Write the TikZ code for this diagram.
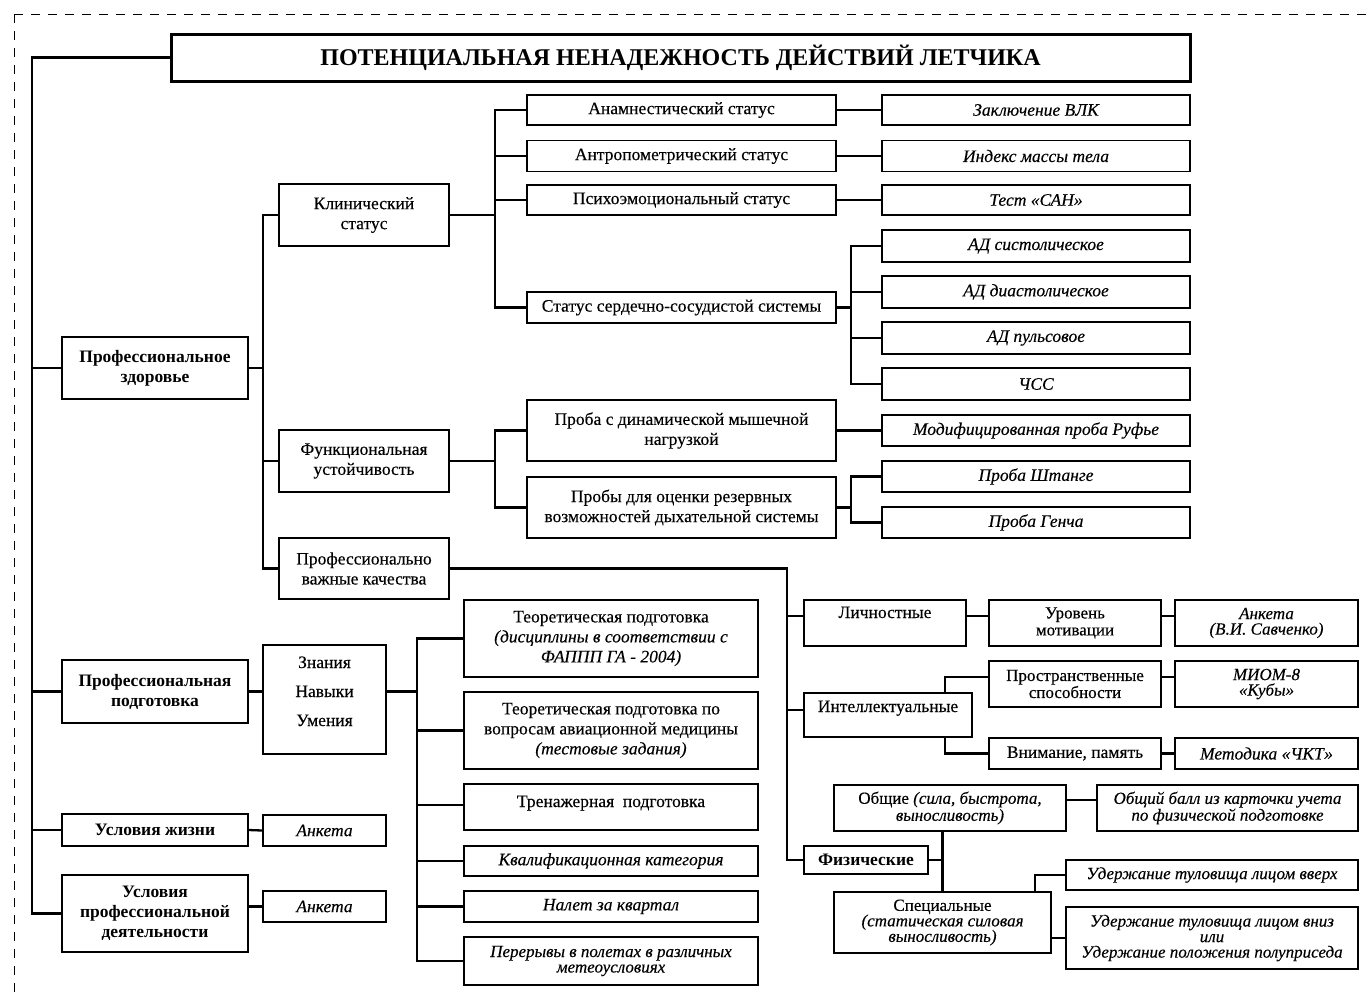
\documentclass[tikz,border=0pt]{standalone}
\usepackage{fontspec}
\setmainfont{Liberation Serif}[UprightFeatures={FakeBold=0.3}, ItalicFeatures={FakeBold=0.3}]
\usetikzlibrary{calc}

\tikzset{
	box/.style={draw, line width=1.6pt, align=center, inner sep=1pt, font=\fontsize{17.5}{20}\selectfont},
	bfbox/.style={box, font=\bfseries\fontsize{17.5}{20}\selectfont},
	itbox/.style={box, font=\itshape\fontsize{17.5}{20}\selectfont},
	smbox/.style={box, font=\fontsize{17}{17}\selectfont},
	smitbox/.style={box, font=\itshape\fontsize{17}{15.5}\selectfont},
	wh/.style 2 args={minimum width=#1pt, minimum height=#2pt},
	toptext/.style 2 args={inner ysep=0pt, text height=#1pt, text depth=#2pt},
	conn/.style={line width=2.3pt}
}

\begin{document}
\begin{tikzpicture}[x=1pt, y=-1pt]

	\useasboundingbox (0,0) rectangle (1370,997);

	\draw[line width=1pt, dash pattern=on 9pt off 8pt] (14,14) -- (1370,14);
	\draw[line width=1pt, dash pattern=on 9pt off 8pt] (14,14) -- (14,997);

	% bus lines
	\coordinate (b1) at (32,0);
	\coordinate (b2) at (263,0);
	\coordinate (b3) at (495,0);
	\coordinate (b4) at (851,0);
	\coordinate (b5) at (787,0);
	\coordinate (b6) at (417,0);

	\node[bfbox, line width=3pt, wh={1019}{47}, font=\bfseries\fontsize{24}{28}\selectfont] (title) at (680.5,57.5) {ПОТЕНЦИАЛЬНАЯ НЕНАДЕЖНОСТЬ ДЕЙСТВИЙ ЛЕТЧИКА};

	\node[bfbox, wh={186}{62}] (zdor) at (155,368) {Профессиональное\\здоровье};
	\node[bfbox, wh={186}{63}] (podg) at (155,691.5) {Профессиональная\\подготовка};
	\node[bfbox, wh={186}{32}] (zhizn) at (155,830) {Условия жизни};
	\node[bfbox, wh={186}{77}] (deyat) at (155,913.5) {Условия\\профессиональной\\деятельности};

	\node[box, wh={170}{62}] (klin) at (364,215) {Клинический\\статус};
	\node[box, wh={170}{62}] (funk) at (364,461) {Функциональная\\устойчивость};
	\node[box, wh={170}{61}] (pvk) at (364,568.5) {Профессионально\\важные качества};

	\node[box, wh={309}{30}] (anam) at (681.5,110) {Анамнестический статус};
	\node[box, wh={309}{31}] (antr) at (681.5,156) {Антропометрический статус};
	\node[box, wh={309}{30}] (psih) at (681.5,200) {Психоэмоциональный статус};
	\node[box, wh={309}{31}] (ssst) at (681.5,307.5) {Статус сердечно-сосудистой системы};
	\node[box, wh={309}{61}] (din) at (681.5,430.5) {Проба с динамической мышечной\\нагрузкой};
	\node[box, wh={309}{61}] (rez) at (681.5,507.5) {Пробы для оценки резервных\\возможностей дыхательной системы};

	\node[itbox, wh={308}{30}] (vlk) at (1036,110) {Заключение ВЛК};
	\node[itbox, wh={308}{31}] (imt) at (1036,156) {Индекс массы тела};
	\node[itbox, wh={308}{30}] (san) at (1036,200) {Тест «САН»};
	\node[itbox, wh={308}{32}] (sist) at (1036,246) {АД систолическое};
	\node[itbox, wh={308}{32}] (diast) at (1036,292) {АД диастолическое};
	\node[itbox, wh={308}{32}] (puls) at (1036,338) {АД пульсовое};
	\node[itbox, wh={308}{32}] (chss) at (1036,384) {ЧСС};
	\node[itbox, wh={308}{31}] (rufe) at (1036,430.5) {Модифицированная проба Руфье};
	\node[itbox, wh={308}{31}] (shtange) at (1036,476.5) {Проба Штанге};
	\node[itbox, wh={308}{31}] (gench) at (1036,522.5) {Проба Генча};

	\node[box, minimum width=123pt, toptext={23}{86}] (znu) at (324.5,699.5) {\begin{tabular}[t]{@{}c@{}}Знания\\[9pt]Навыки\\[9pt]Умения\end{tabular}};
	\node[itbox, wh={123}{31}] (ank1) at (324.5,830.5) {Анкета};
	\node[itbox, wh={123}{31}] (ank2) at (324.5,906.5) {Анкета};

	\node[box, wh={294}{77}] (teor1) at (611,638.5) {Теоретическая подготовка\\\textit{(дисциплины в соответствии с}\\\textit{ФАППП ГА - 2004)}};
	\node[box, wh={294}{77}] (teor2) at (611,730.5) {Теоретическая подготовка по\\вопросам авиационной медицины\\\textit{(тестовые задания)}};
	\node[box, minimum width=294pt, toptext={23}{23}] (tren) at (611,807) {Тренажерная~~подготовка};
	\node[itbox, wh={294}{30}] (kval) at (611,861) {Квалификационная категория};
	\node[itbox, wh={294}{31}] (nalet) at (611,906.5) {Налет за квартал};
	\node[smitbox, wh={294}{48}] (perer) at (611,961) {Перерывы в полетах в различных\\метеоусловиях};

	\node[box, minimum width=162pt, toptext={18}{28}] (lichn) at (885,623) {Личностные};
	\node[smbox, wh={172}{46}] (urov) at (1075,623) {Уровень\\мотивации};
	\node[smitbox, wh={183}{46}] (ankS) at (1266.5,623) {Анкета\\(В.И. Савченко)};
	\node[box, minimum width=168pt, toptext={19}{25}] (intel) at (888,715) {Интеллектуальные};
	\node[smbox, wh={172}{46}] (prostr) at (1075,684) {Пространственные\\способности};
	\node[smitbox, wh={183}{46}] (miom) at (1266.5,684) {МИОМ-8\\«Кубы»};
	\node[box, wh={172}{31}] (vnim) at (1075,753.5) {Внимание, память};
	\node[itbox, wh={183}{31}] (chkt) at (1266.5,753.5) {Методика «ЧКТ»};
	\node[smbox, wh={232}{46}] (obsch) at (950,808) {Общие \textit{(сила, быстрота,}\\\textit{выносливость)}};
	\node[smitbox, wh={261}{46}] (ball) at (1227.5,808) {Общий балл из карточки учета\\по физической подготовке};
	\node[bfbox, wh={124}{28}] (fiz) at (866,860) {Физические};
	\node[smbox, wh={217}{61}, font=\fontsize{17}{15.5}\selectfont] (spec) at (942.5,922.5) {Специальные\\\textit{(статическая силовая}\\\textit{выносливость)}};
	\node[smitbox, wh={292}{30}] (vverh) at (1212,875) {Удержание туловища лицом вверх};
	\node[smitbox, wh={292}{62}] (vniz) at (1212,938) {Удержание туловища лицом вниз\\или\\Удержание положения полуприседа};

	% main spine
	\draw[conn] (title.west) -| (deyat.west -| b1) -- (deyat.west);
	\foreach \n in {zdor,podg,zhizn}
		\draw[conn] (\n.west) -- (\n.west -| b1);

	% health
	\draw[conn] (klin.west) -| (pvk.west -| b2) -- (pvk.west);
	\draw[conn] (funk.west) -- (funk.west -| b2);
	\draw[conn] (zdor.east) -- (zdor.east -| b2);

	\draw[conn] (anam.west) -| (ssst.west -| b3) -- (ssst.west);
	\foreach \n in {antr,psih}
		\draw[conn] (\n.west) -- (\n.west -| b3);
	\draw[conn] (klin.east) -- (klin.east -| b3);
	\draw[conn] (din.west) -| (rez.west -| b3) -- (rez.west);
	\draw[conn] (funk.east) -- (funk.east -| b3);

	\draw[conn] (anam.east) -- (vlk.west);
	\draw[conn] (antr.east) -- (imt.west);
	\draw[conn] (psih.east) -- (san.west);
	\draw[conn] (din.east) -- (rufe.west);
	\draw[conn] (sist.west) -| (chss.west -| b4) -- (chss.west);
	\foreach \n in {diast,puls}
		\draw[conn] (\n.west) -- (\n.west -| b4);
	\draw[conn] (ssst.east) -- (ssst.east -| b4);
	\draw[conn] (shtange.west) -| (gench.west -| b4) -- (gench.west);
	\draw[conn] (rez.east) -- (rez.east -| b4);

	% training
	\draw[conn] (podg.east) -- (podg.east -| znu.west);
	\draw[conn] (znu.east |- podg.east) -- (podg.east -| b6);
	\draw[conn] (teor1.west) -| (perer.west -| b6) -- (perer.west);
	\foreach \n in {teor2.west,tren.mid west,kval.west,nalet.west}
		\draw[conn] (\n) -- (\n -| b6);
	\draw[conn] (zhizn.east) -- (ank1.west);
	\draw[conn] (ank2.west -| deyat.east) -- (ank2.west);

	% qualities
	\draw[conn] (pvk.east) -| (fiz.west -| b5) -- (fiz.west);
	\draw[conn] (lichn.mid west) -- (lichn.mid west -| b5);
	\draw[conn] (intel.mid west) -- (intel.mid west -| b5);
	\draw[conn] (lichn.mid east) -- (lichn.mid east -| urov.west);
	\draw[conn] (lichn.mid east -| urov.east) -- (lichn.mid east -| ankS.west);
	\draw[conn] ($(intel.north east)+(-28,0)$) |- ($(prostr.west)+(0,-7)$);
	\draw[conn] ($(prostr.east)+(0,-7)$) -- ($(miom.west)+(0,-7)$);
	\draw[conn] ($(intel.south east)+(-28,0)$) |- (vnim.west);
	\draw[conn] (vnim.east) -- (chkt.west);
	\draw[conn] ($(obsch.east)+(0,-8)$) -- ($(ball.west)+(0,-8)$);
	\draw[conn] (spec.north) -- (spec.north |- obsch.south);
	\draw[conn] (fiz.east) -- (fiz.east -| spec.north);
	\draw[conn] ($(spec.north east)+(-17,0)$) |- (vverh.west);
	\draw[conn] (vniz.west -| spec.east) -- (vniz.west);

\end{tikzpicture}
\end{document}
